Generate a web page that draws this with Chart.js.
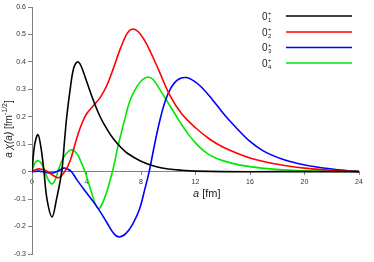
<!DOCTYPE html>
<html>
<head>
<meta charset="utf-8">
<script src="https://cdn.jsdelivr.net/npm/chart.js@4"></script>
<style>
  html, body { margin: 0; padding: 0; background: #fff; }
  #wrap { width: 374px; height: 262px; }
</style>
</head>
<body>
<div id="wrap"><canvas id="waveChart"></canvas></div>
<script>
// radial coordinate a [fm] and a*chi(a) values
const stateLabels = ['1', '2', '3', '4'];
const stateColors = ['#000000', '#ff0000', '#0000ff', '#00e600'];

const a1 = [0, 0.2, 0.44, 0.65, 0.88, 1.1, 1.47, 1.8, 2.18, 2.4, 2.55, 2.8, 3.05, 3.33, 3.6, 4.0, 4.5, 5.0, 5.5, 6.0, 6.5, 7, 8, 9, 10, 11, 12, 14, 18, 24];
const chi1 = [0, 0.1, 0.135, 0.09, 0, -0.1, -0.165, -0.1, 0, 0.12, 0.2, 0.3, 0.375, 0.4, 0.385, 0.33, 0.26, 0.2, 0.155, 0.118, 0.09, 0.067, 0.038, 0.02, 0.01, 0.005, 0.002, 0, 0, 0];

const a2 = [0, 0.3, 0.6, 1.0, 1.5, 1.95, 2.4, 2.8, 3.1, 3.4, 3.7, 4.0, 4.5, 5.0, 5.5, 6.0, 6.5, 7.0, 7.4, 7.8, 8.3, 8.7, 9.3, 10.1, 11, 12, 13, 14, 16, 18, 20, 22, 24];
const chi2 = [0, 0.008, 0.01, 0.004, -0.012, -0.022, 0, 0.04, 0.09, 0.14, 0.18, 0.21, 0.24, 0.27, 0.315, 0.38, 0.45, 0.505, 0.52, 0.51, 0.475, 0.436, 0.37, 0.28, 0.21, 0.16, 0.12, 0.09, 0.05, 0.027, 0.013, 0.005, 0];

const a3 = [0, 0.5, 1.0, 1.5, 2.0, 2.3, 2.6, 2.9, 3.3, 4.0, 4.8, 5.5, 6.0, 6.4, 6.9, 7.4, 7.9, 8.3, 8.6, 9.0, 9.4, 9.8, 10.2, 10.7, 11.3, 11.9, 12.5, 13.2, 14, 14.8, 16, 17, 18.4, 19.5, 21, 22.5, 24];
const chi3 = [0, 0.002, -0.002, -0.005, 0.005, 0.013, 0.01, 0, -0.03, -0.077, -0.13, -0.186, -0.225, -0.238, -0.225, -0.19, -0.135, -0.06, 0, 0.1, 0.19, 0.26, 0.305, 0.335, 0.343, 0.33, 0.305, 0.265, 0.215, 0.17, 0.11, 0.075, 0.045, 0.03, 0.016, 0.007, 0];

const a4 = [0, 0.2, 0.45, 0.75, 1.1, 1.45, 1.7, 1.9, 2.2, 2.5, 2.9, 3.3, 3.6, 3.9, 4.3, 4.85, 5.3, 5.9, 6.3, 6.7, 7.2, 7.7, 8.1, 8.5, 8.9, 9.5, 10, 10.5, 11, 11.5, 12, 12.5, 13, 13.6, 14.5, 15.5, 17, 19, 21, 24];
const chi4 = [0, 0.03, 0.04, 0.025, -0.02, -0.045, -0.03, 0, 0.04, 0.065, 0.08, 0.065, 0.035, 0, -0.065, -0.135, -0.1, 0, 0.09, 0.17, 0.26, 0.31, 0.335, 0.345, 0.335, 0.29, 0.25, 0.21, 0.17, 0.135, 0.105, 0.08, 0.062, 0.047, 0.033, 0.022, 0.012, 0.005, 0.002, 0];

const xTicks = [0, 4, 8, 12, 16, 20, 24];
const yTicks = [-0.3, -0.2, -0.1, 0, 0.1, 0.2, 0.3, 0.4, 0.5, 0.6];

const allA = [a1, a2, a3, a4];
const allChi = [chi1, chi2, chi3, chi4];

function toPoints(xs, ys) {
  return xs.map((x, i) => ({ x: x, y: ys[i] }));
}

const axisGray = '#808080';
const tickFont = { family: 'Liberation Sans', size: 7 };

// axis titles and the legend with stacked sub/superscripts
const textPlugin = {
  id: 'texts',
  afterDraw(chart) {
    const ctx = chart.ctx;
    ctx.save();
    ctx.fillStyle = '#222';
    ctx.textBaseline = 'alphabetic';
    ctx.textAlign = 'left';

    // x title: a [fm]
    let x = 193;
    const yb = 197;
    ctx.font = 'italic 11px "Liberation Sans"';
    ctx.fillText('a', x, yb);
    x += ctx.measureText('a').width;
    ctx.font = '11px "Liberation Sans"';
    ctx.fillText(' [fm]', x, yb);

    // y title: a chi(a) [fm^-1/2]
    const parts = [
      { t: 'a ', f: 'italic 10px "Liberation Sans"', dy: 0 },
      { t: '\u03c7(a)', f: 'italic 10px "Liberation Sans"', dy: 0 },
      { t: ' [fm', f: '10px "Liberation Sans"', dy: 0 },
      { t: '-1/2', f: '7px "Liberation Sans"', dy: -5 },
      { t: ']', f: '10px "Liberation Sans"', dy: 0 }
    ];
    let total = 0;
    parts.forEach(p => { ctx.font = p.f; total += ctx.measureText(p.t).width; });
    ctx.translate(12, 129);
    ctx.rotate(-Math.PI / 2);
    let px = -total / 2;
    parts.forEach(p => {
      ctx.font = p.f;
      ctx.fillText(p.t, px, p.dy);
      px += ctx.measureText(p.t).width;
    });
    ctx.setTransform(1, 0, 0, 1, 0, 0);

    // legend
    const rowY = [16, 32, 47.5, 63];
    chart.data.datasets.forEach((ds, i) => {
      const y = rowY[i];
      ctx.fillStyle = '#222';
      ctx.font = '10px "Liberation Sans"';
      ctx.fillText('0', 262, y + 3.5);
      const w = ctx.measureText('0').width;
      ctx.font = '6px "Liberation Sans"';
      ctx.fillText('+', 262 + w + 0.5, y - 1);
      ctx.fillText(stateLabels[i], 262 + w + 0.5, y + 5.5);
      ctx.strokeStyle = ds.borderColor;
      ctx.lineWidth = 1.6;
      ctx.beginPath();
      ctx.moveTo(286, y);
      ctx.lineTo(352, y);
      ctx.stroke();
    });
    ctx.restore();
  }
};

const ctx = document.getElementById('waveChart').getContext('2d');
const waveChart = new Chart(ctx, {
  type: 'line',
  data: {
    datasets: allA.map((xs, i) => ({
      label: '0' + stateLabels[i] + '+',
      data: toPoints(xs, allChi[i]),
      borderColor: stateColors[i],
      borderWidth: 1.6,
      pointRadius: 0,
      fill: false,
      tension: 0.35
    }))
  },
  options: {
    responsive: true,
    maintainAspectRatio: false,
    animation: false,
    layout: { padding: { left: 0, right: 15, top: 7, bottom: 8 } },
    plugins: {
      legend: { display: false },
      tooltip: { enabled: false }
    },
    scales: {
      x: {
        type: 'linear',
        position: { y: 0 },
        min: 0,
        max: 24,
        afterBuildTicks: (scale) => { scale.ticks = xTicks.map(v => ({ value: v })); },
        ticks: { font: tickFont, color: '#333', padding: 3, maxRotation: 0 },
        grid: { drawOnChartArea: false, drawTicks: true, tickLength: 3, color: axisGray },
        border: { display: true, color: axisGray, width: 1 }
      },
      y: {
        type: 'linear',
        min: -0.3,
        max: 0.6,
        afterBuildTicks: (scale) => { scale.ticks = yTicks.map(v => ({ value: v })); },
        afterFit: (scale) => { scale.width = 32; },
        ticks: {
          font: tickFont,
          color: '#333',
          padding: 2,
          callback: (v) => (Math.abs(v) < 1e-9 ? '0' : v.toFixed(1))
        },
        grid: { drawOnChartArea: false, drawTicks: true, tickLength: 4, color: axisGray },
        border: { display: true, color: axisGray, width: 1 }
      }
    }
  },
  plugins: [textPlugin]
});
</script>
</body>
</html>
